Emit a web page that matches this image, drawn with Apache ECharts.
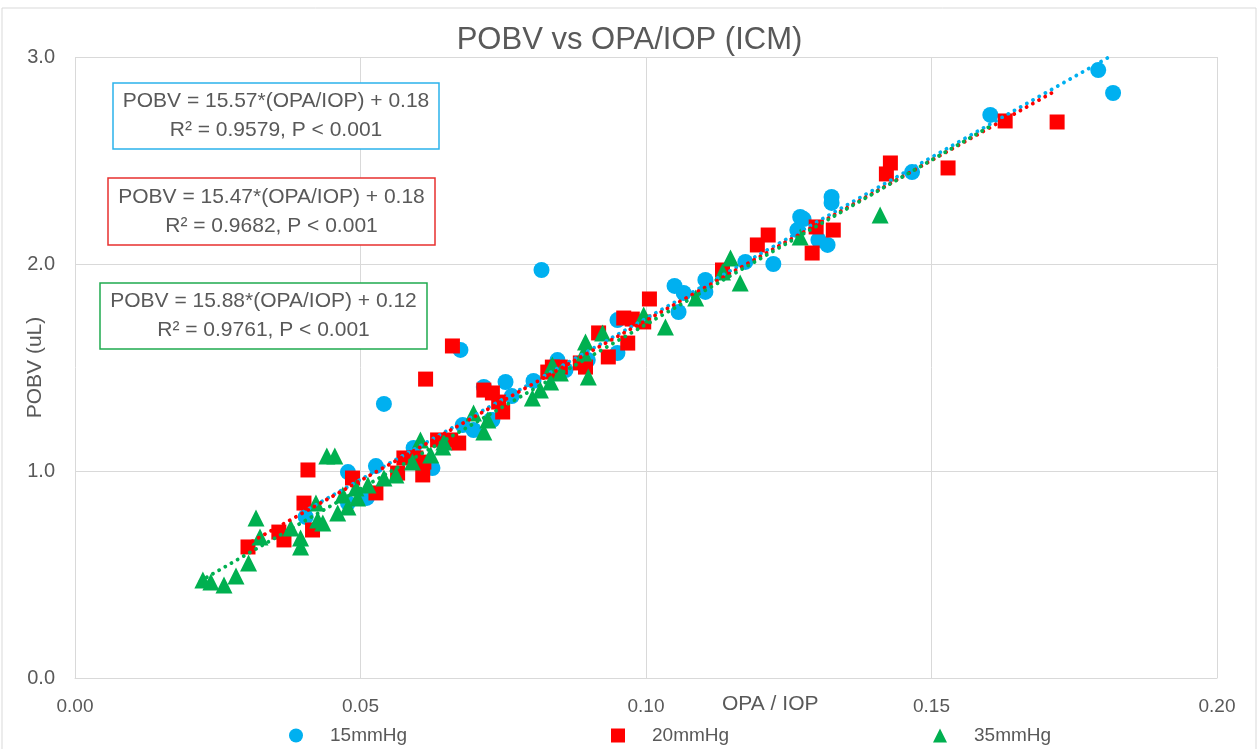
<!DOCTYPE html>
<html>
<head>
<meta charset="utf-8">
<title>POBV vs OPA/IOP (ICM)</title>
<script src="https://cdn.jsdelivr.net/npm/echarts@6/dist/echarts.min.js"></script>
<style>
  html, body { margin: 0; padding: 0; background: #fff; }
  #chart { width: 1259px; height: 749px; }
</style>
</head>
<body>
<div id="chart"></div>
<script>
// 系列名称
const seriesNames = ['15mmHg', '20mmHg', '35mmHg'];

// 各压力下的散点 [OPA/IOP, POBV]
const points15 = [
  [0.1792, 2.937], [0.1818, 2.826], [0.1603, 2.720], [0.1466, 2.444], [0.1325, 2.324],
  [0.1325, 2.295], [0.1270, 2.227], [0.1276, 2.217], [0.1265, 2.164], [0.1302, 2.116],
  [0.1318, 2.092], [0.1223, 2.000], [0.1174, 2.010], [0.1050, 1.894], [0.1066, 1.860],
  [0.1104, 1.923], [0.1104, 1.865], [0.1057, 1.768], [0.0950, 1.729], [0.0950, 1.570],
  [0.0817, 1.971], [0.0675, 1.585], [0.0541, 1.324], [0.0898, 1.536], [0.0845, 1.536],
  [0.0859, 1.488], [0.0803, 1.435], [0.0754, 1.430], [0.0765, 1.362], [0.0716, 1.406],
  [0.0728, 1.246], [0.0698, 1.198], [0.0679, 1.222], [0.0731, 1.246], [0.0626, 1.014],
  [0.0593, 1.111], [0.0527, 1.024], [0.0478, 0.995], [0.0511, 0.870], [0.0404, 0.778],
  [0.0478, 0.845]
];
const points20 = [
  [0.1720, 2.686], [0.1629, 2.691], [0.1529, 2.464], [0.1428, 2.488], [0.1421, 2.435],
  [0.1328, 2.164], [0.1298, 2.179], [0.1291, 2.053], [0.1214, 2.140], [0.1195, 2.092],
  [0.1134, 1.971], [0.1006, 1.831], [0.0961, 1.739], [0.0976, 1.734], [0.0996, 1.720],
  [0.0968, 1.618], [0.0934, 1.551], [0.0917, 1.667], [0.0894, 1.502], [0.0885, 1.522],
  [0.0850, 1.502], [0.0836, 1.502], [0.0828, 1.478], [0.0749, 1.285], [0.0742, 1.333],
  [0.0731, 1.377], [0.0716, 1.391], [0.0672, 1.135], [0.0658, 1.150], [0.0635, 1.150],
  [0.0611, 1.043], [0.0609, 0.981], [0.0597, 1.063], [0.0576, 1.063], [0.0565, 0.990],
  [0.0527, 0.894], [0.0486, 0.966], [0.0661, 1.604], [0.0614, 1.444], [0.0416, 0.715],
  [0.0401, 0.845], [0.0408, 1.005], [0.0366, 0.667], [0.0357, 0.705], [0.0303, 0.633]
];
const points35 = [
  [0.1410, 2.237], [0.1270, 2.130], [0.1165, 1.908], [0.1148, 2.029], [0.1134, 1.961],
  [0.1087, 1.836], [0.1034, 1.696], [0.0996, 1.754], [0.0924, 1.667], [0.0899, 1.454],
  [0.0894, 1.623], [0.0891, 1.570], [0.0850, 1.473], [0.0833, 1.430], [0.0815, 1.391],
  [0.0801, 1.353], [0.0836, 1.512], [0.0698, 1.280], [0.0716, 1.188], [0.0723, 1.246],
  [0.0646, 1.140], [0.0644, 1.116], [0.0623, 1.077], [0.0605, 1.150], [0.0591, 1.043],
  [0.0562, 0.981], [0.0541, 0.966], [0.0513, 0.932], [0.0492, 0.918], [0.0469, 0.884],
  [0.0495, 0.870], [0.0478, 0.826], [0.0460, 0.797], [0.0434, 0.749], [0.0425, 0.763],
  [0.0422, 0.845], [0.0395, 0.676], [0.0395, 0.633], [0.0378, 0.725], [0.0324, 0.681],
  [0.0317, 0.773], [0.0304, 0.556], [0.0282, 0.493], [0.0261, 0.449], [0.0238, 0.464],
  [0.0224, 0.473], [0.0441, 1.072], [0.0455, 1.072]
];

// 回归线：斜率、截距、x 范围
const trendSlopes = [15.57, 15.47, 15.88];
const trendIntercepts = [0.18, 0.18, 0.12];
const trendXRanges = [[0.040, 0.181], [0.030, 0.172], [0.022, 0.160]];

// 注释文字
const equationLines = [
  ['POBV = 15.57*(OPA/IOP) + 0.18', 'R² = 0.9579, P < 0.001'],
  ['POBV = 15.47*(OPA/IOP) + 0.18', 'R² = 0.9682, P < 0.001'],
  ['POBV = 15.88*(OPA/IOP) + 0.12', 'R² = 0.9761, P < 0.001']
];

const colors = ['#00B0F0', '#FF0000', '#00B050'];
const boxColors = ['#2BB3EC', '#E8312F', '#1FAA4F'];
const symbols = ['circle', 'rect', 'triangle'];
const symbolSizes = [16, 15, 17];
const FONT = "'Liberation Sans', sans-serif";
const TEXT_COLOR = '#595959';

const chart = echarts.init(document.getElementById('chart'));

const scatterSeries = [points15, points20, points35].map((pts, i) => ({
  name: seriesNames[i],
  type: 'scatter',
  data: pts,
  symbol: symbols[i],
  symbolSize: symbolSizes[i],
  itemStyle: { color: colors[i], opacity: 1 },
  z: 2 + i
}));

const trendSeries = trendSlopes.map((k, i) => ({
  name: seriesNames[i] + ' trend',
  type: 'line',
  data: trendXRanges[i].map(x => [x, k * x + trendIntercepts[i]]),
  symbol: 'none',
  silent: true,
  lineStyle: { color: colors[i], width: 3.8, type: [0.1, 7], cap: 'round' },
  z: 10 + i
}));

// 注释框位置
const boxRects = [
  { x: 113, y: 83, w: 326, h: 66 },
  { x: 108, y: 178, w: 327, h: 67 },
  { x: 100, y: 283, w: 327, h: 66 }
];

const graphics = [
  {
    type: 'rect', silent: true, z: -1,
    shape: { x: 2, y: 8, width: 1254, height: 760 },
    style: { fill: 'none', stroke: '#d9d9d9', lineWidth: 1 }
  },
  {
    type: 'text', left: 722, top: 694,
    style: { text: 'OPA / IOP', font: '21px ' + FONT, fill: TEXT_COLOR }
  }
];
boxRects.forEach((b, i) => {
  graphics.push({
    type: 'rect', z: 20,
    shape: { x: b.x, y: b.y, width: b.w, height: b.h },
    style: { fill: '#fff', stroke: boxColors[i], lineWidth: 1.5 }
  });
  graphics.push({
    type: 'text', z: 21,
    x: b.x + b.w / 2, y: b.y + b.h / 2,
    style: {
      text: equationLines[i].join('\n'),
      font: '21px ' + FONT, fill: TEXT_COLOR,
      align: 'center', verticalAlign: 'middle', lineHeight: 29
    }
  });
});

chart.setOption({
  animation: false,
  textStyle: { fontFamily: FONT },
  title: {
    text: 'POBV vs OPA/IOP (ICM)',
    left: 'center', top: 20,
    textStyle: { fontSize: 31, fontWeight: 'normal', color: TEXT_COLOR, fontFamily: FONT }
  },
  grid: { left: 75, right: 42, top: 57, bottom: 71, outerBoundsMode: 'none', containLabel: false },
  xAxis: {
    type: 'value', min: 0, max: 0.2, interval: 0.05,
    axisLine: { show: true, lineStyle: { color: '#d9d9d9' } },
    axisTick: { show: false },
    splitLine: { lineStyle: { color: '#d9d9d9', width: 1 } },
    axisLabel: {
      color: TEXT_COLOR, fontSize: 19, margin: 19, fontFamily: FONT,
      formatter: v => v.toFixed(2)
    }
  },
  yAxis: {
    type: 'value', min: 0, max: 3, interval: 1,
    name: 'POBV (uL)', nameLocation: 'middle', nameGap: 29, nameMoveOverlap: false,
    nameTextStyle: { color: TEXT_COLOR, fontSize: 21, fontFamily: FONT },
    axisLine: { show: false },
    axisTick: { show: false },
    splitLine: { lineStyle: { color: '#d9d9d9', width: 1 } },
    axisLabel: {
      color: TEXT_COLOR, fontSize: 20, margin: 20, fontFamily: FONT,
      formatter: v => v.toFixed(1)
    }
  },
  legend: [0, 1, 2].map(i => ({
    data: [{ name: seriesNames[i], icon: symbols[i] }],
    left: [284, 606, 928][i], top: 721,
    itemWidth: 14, itemHeight: 14,
    textStyle: { color: TEXT_COLOR, fontSize: 19, fontFamily: FONT, padding: [0, 0, 0, 22] }
  })),
  graphic: graphics,
  series: [...scatterSeries, ...trendSeries]
});
</script>
</body>
</html>
